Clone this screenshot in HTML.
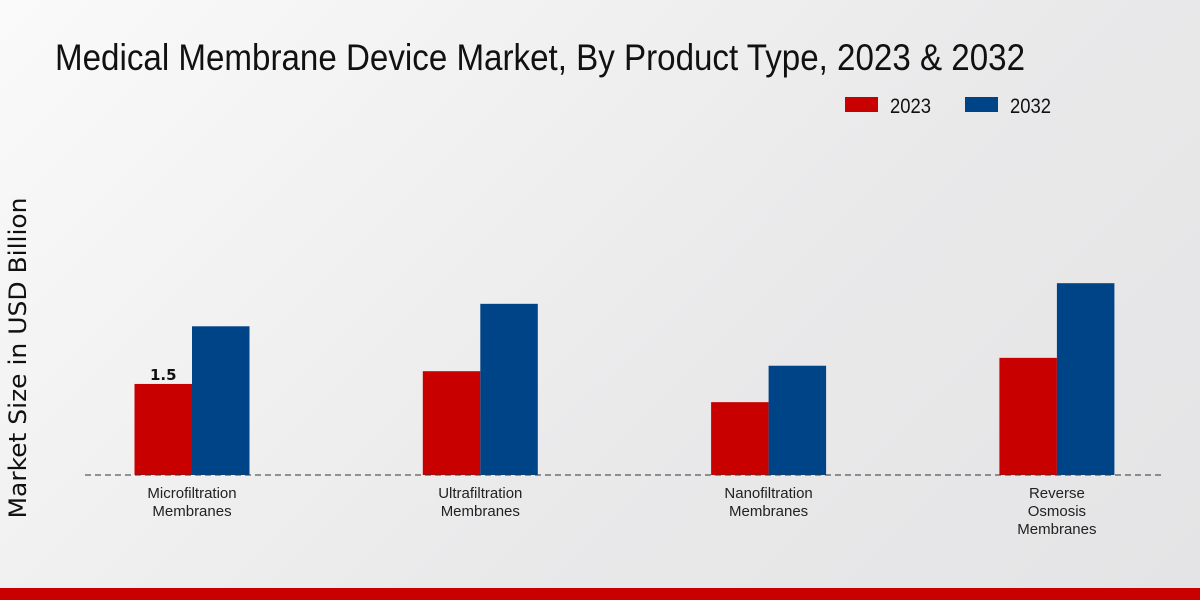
<!DOCTYPE html>
<html><head><meta charset="utf-8"><style>
body{margin:0;width:1200px;height:600px;overflow:hidden;background:linear-gradient(135deg,#fafafa 0%,#e9e9ea 60%,#e4e4e6 100%);font-family:"Liberation Sans Narrow","Liberation Sans",sans-serif;}
svg{position:absolute;left:0;top:0}
</style></head><body>
<svg width="1200" height="600">
<text x="55" y="70" font-size="37" fill="#111" textLength="970" lengthAdjust="spacingAndGlyphs">Medical Membrane Device Market, By Product Type, 2023 &amp; 2032</text>
<g>
<rect x="845" y="97" width="33" height="15" fill="#c80000"/>
<text x="890" y="113" font-size="21" fill="#111" textLength="41" lengthAdjust="spacingAndGlyphs">2023</text>
<rect x="965" y="97" width="33" height="15" fill="#004488"/>
<text x="1010" y="113" font-size="21" fill="#111" textLength="41" lengthAdjust="spacingAndGlyphs">2032</text>
</g>
<text transform="translate(26,358) rotate(-90)" text-anchor="middle" font-size="24" fill="#111" textLength="321" lengthAdjust="spacingAndGlyphs" style="font-family:'DejaVu Sans',sans-serif">Market Size in USD Billion</text>
<g id="bars"></g>
<line x1="85" y1="475" x2="1165" y2="475" stroke="#333" stroke-dasharray="6,4"/>
<g id="labels"></g>
<rect x="0" y="588" width="1200" height="12" fill="#c80000"/>
</svg>
<script>
const categories=[["Microfiltration","Membranes"],["Ultrafiltration","Membranes"],["Nanofiltration","Membranes"],["Reverse","Osmosis","Membranes"]];
const values2023=[1.5,1.71,1.2,1.93];
const values2032=[2.45,2.82,1.8,3.16];
const baseY=475, pxPerUnit=60.7, firstCenter=192, groupStep=288.3, barW=57.5;
const NS="http://www.w3.org/2000/svg";
const y=v=>baseY-v*pxPerUnit;
const bars=document.getElementById('bars'), labels=document.getElementById('labels');
function mk(tag,attrs,parent){const e=document.createElementNS(NS,tag);for(const k in attrs)e.setAttribute(k,attrs[k]);parent.appendChild(e);return e;}
categories.forEach((c,i)=>{
  const cx=firstCenter+i*groupStep;
  const r=mk('rect',{x:cx-barW,y:y(values2023[i]),width:barW,height:values2023[i]*pxPerUnit,fill:'#c80000'},bars);
  
  
  const b=mk('rect',{x:cx,y:y(values2032[i]),width:barW,height:values2032[i]*pxPerUnit,fill:'#004488'},bars);
  
  
  c.forEach((line,j)=>{
    const t=mk('text',{x:cx,y:498+j*18,'text-anchor':'middle','font-size':'15',fill:'#222'},labels);
    t.textContent=line;
    
    
  });
});
const v=mk('text',{x:firstCenter-barW/2,y:y(values2023[0])-4,'text-anchor':'middle','font-size':'15','font-weight':'bold',fill:'#111',style:"font-family:'DejaVu Sans',sans-serif"},labels);
v.textContent=values2023[0];


</script>
</body></html>
